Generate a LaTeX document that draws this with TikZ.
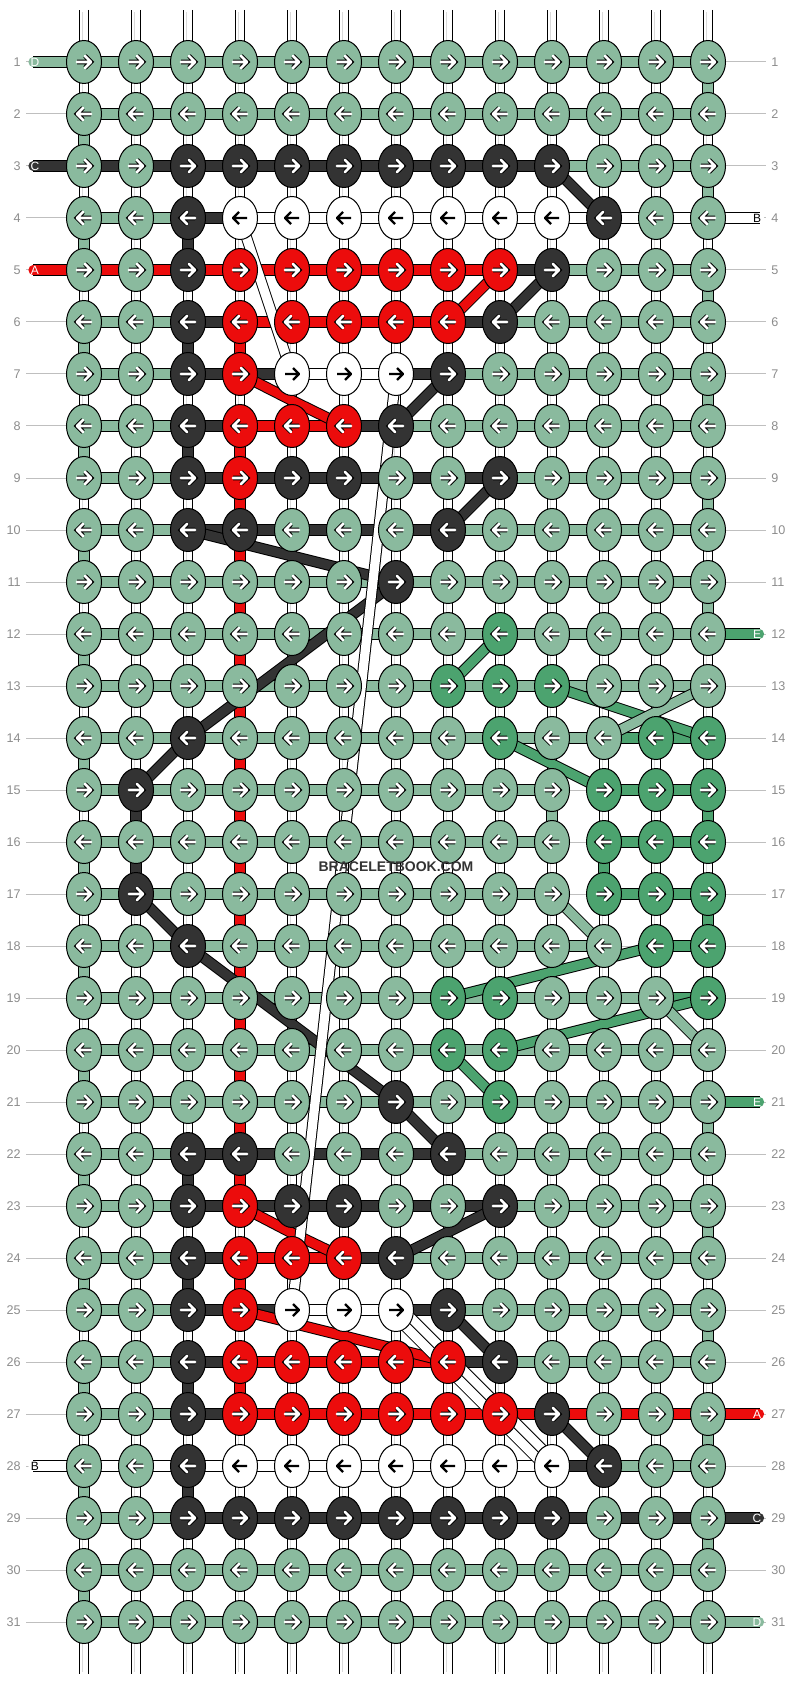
\documentclass[tikz,border=0pt]{standalone}
\usepackage{fontspec}
\setmainfont{Liberation Sans}
\usetikzlibrary{shapes.geometric}
\definecolor{G}{HTML}{8ABA9E}
\definecolor{M}{HTML}{4CA36F}
\definecolor{K}{HTML}{333333}
\definecolor{R}{HTML}{EC0C0C}
\definecolor{W}{HTML}{FFFFFF}
\pgfdeclarelayer{warp}
\pgfdeclarelayer{bars}
\pgfdeclarelayer{diag}
\pgfsetlayers{warp,bars,diag,main}
\tikzset{
  strand/.style={draw=#1, line width=4.6pt, line join=round, preaction={draw=black, line width=5.6pt}},
  seg G/.style={strand=G}, seg K/.style={strand=K}, seg R/.style={strand=R},
  seg W/.style={strand=W}, seg M/.style={strand=M},
  seg X/.style={draw=black!25, line width=0.5pt},
  knot/.style={ellipse, draw, line width=0.5pt, minimum width=17.5pt, minimum height=21.5pt, inner sep=0pt},
  arrow in/.style={draw=white, line width=1.3pt, line cap=round, line join=round,
    preaction={draw=black, line width=2.3pt}},
  arr G/.style={arrow in}, arr K/.style={arrow in}, arr R/.style={arrow in}, arr M/.style={arrow in},
  arr W/.style={draw=black, line width=1.1pt, line join=round},
  warp/.style={draw=white, line width=4.4pt, line cap=round, preaction={draw=black, line width=5pt}},
  warp core/.style={draw=black!15, line width=2pt, postaction={draw=white, line width=1.5pt}},
  guide/.style={draw=black!25, line width=0.5pt},
  rowno/.style={text=black!45, inner sep=0pt, font=\fontsize{6.3}{7}\selectfont},
  tag/.style={inner sep=0pt, font=\fontsize{6}{7}\selectfont}
}
\begin{document}
\begin{tikzpicture}[x=0.5pt, y=-0.5pt]
\useasboundingbox (0,0) rectangle (792,1684);

\foreach \kr [count=\ri] in {
  {G,G,G,G,G,G,G,G,G,G,G,G,G},
  {G,G,G,G,G,G,G,G,G,G,G,G,G},
  {G,G,K,K,K,K,K,K,K,K,G,G,G},
  {G,G,K,W,W,W,W,W,W,W,K,G,G},
  {G,G,K,R,R,R,R,R,R,K,G,G,G},
  {G,G,K,R,R,R,R,R,K,G,G,G,G},
  {G,G,K,R,W,W,W,K,G,G,G,G,G},
  {G,G,K,R,R,R,K,G,G,G,G,G,G},
  {G,G,K,R,K,K,G,G,K,G,G,G,G},
  {G,G,K,K,G,G,G,K,G,G,G,G,G},
  {G,G,G,G,G,G,K,G,G,G,G,G,G},
  {G,G,G,G,G,G,G,G,M,G,G,G,G},
  {G,G,G,G,G,G,G,M,M,M,G,G,G},
  {G,G,K,G,G,G,G,G,M,G,G,M,M},
  {G,K,G,G,G,G,G,G,G,G,M,M,M},
  {G,G,G,G,G,G,G,G,G,G,M,M,M},
  {G,K,G,G,G,G,G,G,G,G,M,M,M},
  {G,G,K,G,G,G,G,G,G,G,G,M,M},
  {G,G,G,G,G,G,G,M,M,G,G,G,M},
  {G,G,G,G,G,G,G,M,M,G,G,G,G},
  {G,G,G,G,G,G,K,G,M,G,G,G,G},
  {G,G,K,K,G,G,G,K,G,G,G,G,G},
  {G,G,K,R,K,K,G,G,K,G,G,G,G},
  {G,G,K,R,R,R,K,G,G,G,G,G,G},
  {G,G,K,R,W,W,W,K,G,G,G,G,G},
  {G,G,K,R,R,R,R,R,K,G,G,G,G},
  {G,G,K,R,R,R,R,R,R,K,G,G,G},
  {G,G,K,W,W,W,W,W,W,W,K,G,G},
  {G,G,K,K,K,K,K,K,K,K,G,G,G},
  {G,G,G,G,G,G,G,G,G,G,G,G,G},
  {G,G,G,G,G,G,G,G,G,G,G,G,G}}{
  \pgfmathsetmacro\dir{1-2*mod(\ri+1,2)}
  \foreach \kc [count=\ci] in \kr {
    \node[knot, fill=\kc] (\ri-\ci) at ({32+52*\ci},{10+52*\ri}) {};
    \begin{scope}[shift={({32+52*\ci},{10+52*\ri})}, xscale=\dir]
      \draw[arr \kc] (-7,0) -- (7,0) (1,-6) -- (7,0) -- (1,6);
    \end{scope}
  }
  \node[rowno, anchor=east] (ln\ri) at (21,{10+52*\ri}) {\ri};
  \node[rowno, anchor=west] (rn\ri) at (771,{10+52*\ri}) {\ri};
  \coordinate (gl\ri) at (26,{10+52*\ri});
  \coordinate (gr\ri) at (766,{10+52*\ri});
}

\begin{pgfonlayer}{warp}
  \foreach \ci in {1,...,13} {
    \coordinate (wt\ci) at ({32+52*\ci},10);
    \coordinate (wb\ci) at ({32+52*\ci},1674);
    \draw[warp] (wt\ci) -- (wb\ci);
    \draw[warp core] ([yshift=-1pt]wt\ci) -- ([yshift=1pt]wb\ci);
  }
  \foreach \ri in {1,...,31} {
    \draw[guide] (gl\ri) -- (\ri-1.center);
    \draw[guide] (\ri-13.center) -- (gr\ri);
  }
\end{pgfonlayer}

\begin{pgfonlayer}{bars}
  \foreach \br [count=\ri] in {
    {G,G,G,G,G,G,G,G,G,G,G,G},
    {G,G,G,G,G,G,G,G,G,G,G,G},
    {K,K,K,K,K,K,K,K,K,G,G,G},
    {G,G,K,W,W,W,W,W,W,W,W,W},
    {R,R,R,R,R,R,R,R,K,G,G,G},
    {G,G,K,R,R,R,R,K,G,G,G,G},
    {G,G,K,K,W,W,K,G,G,G,G,G},
    {G,G,K,R,R,K,G,G,G,G,G,G},
    {G,G,K,K,K,K,K,K,G,G,G,G},
    {G,G,K,K,K,K,K,G,G,G,G,G},
    {G,G,G,G,G,G,G,G,G,G,G,G},
    {G,G,G,G,G,G,G,G,G,G,G,G},
    {G,G,G,G,G,G,G,G,G,G,G,G},
    {G,G,G,G,G,G,G,G,G,G,M,M},
    {G,G,G,G,G,G,G,G,G,X,M,M},
    {G,G,G,G,G,G,G,G,G,X,M,M},
    {G,G,G,G,G,G,G,G,G,X,M,M},
    {G,G,G,G,G,G,G,G,G,G,X,M},
    {G,G,G,G,G,G,G,G,G,G,G,M},
    {G,G,G,G,G,G,G,G,G,G,G,G},
    {G,G,G,G,G,G,G,G,G,G,G,G},
    {G,G,K,K,K,K,K,G,G,G,G,G},
    {G,G,K,K,K,K,K,K,G,G,G,G},
    {G,G,K,R,R,K,G,G,G,G,G,G},
    {G,G,K,K,W,W,K,G,G,G,G,G},
    {G,G,K,R,R,R,R,K,G,G,G,G},
    {G,G,K,R,R,R,R,R,R,R,R,R},
    {W,W,W,W,W,W,W,W,W,K,G,G},
    {G,G,K,K,K,K,K,K,K,K,K,K},
    {G,G,G,G,G,G,G,G,G,G,G,G},
    {G,G,G,G,G,G,G,G,G,G,G,G}}{
    \foreach \bc [count=\ci] in \br {
      \pgfmathtruncatemacro\cn{\ci+1}
      \draw[seg \bc] (\ri-\ci.center) -- (\ri-\cn.center);
    }
  }
  \foreach \ci/\ri/\bc in {13/1/G, 13/3/G, 13/5/G, 13/7/G, 13/9/G, 13/11/G, 13/15/M, 13/17/M,
      13/21/G, 13/23/G, 13/25/G, 13/27/G, 13/29/G, 3/4/K, 3/6/K, 3/8/K, 3/22/K, 3/24/K,
      3/26/K, 3/28/K, 4/6/R, 4/24/R, 4/26/R, 2/15/K, 2/16/K, 11/16/M, 10/15/G} {
    \pgfmathtruncatemacro\rn{\ri+1}
    \draw[seg \bc] (\ri-\ci.center) -- (\rn-\ci.center);
  }
  \foreach \ri in {2,4,...,30} {
    \pgfmathtruncatemacro\rn{\ri+1}
    \draw[seg G] (\ri-1.center) -- (\rn-1.center);
  }
  \foreach \ri in {8,...,22} {
    \pgfmathtruncatemacro\rn{\ri+1}
    \draw[seg R] (\ri-4.center) -- (\rn-4.center);
  }
  \foreach \ri/\kc/\tx/\tc in {1/G/D/white, 3/K/C/white, 5/R/A/white, 28/W/B/black} {
    \coordinate (sl\ri) at (33,{10+52*\ri});
    \draw[strand=\kc, line cap=round] (sl\ri) -- (\ri-1.center);
    \node[tag, text=\tc] (tl\ri) at (35,{10+52*\ri}) {\tx};
  }
  \foreach \ri/\kc/\tx/\tc in {4/W/B/black, 12/M/E/white, 21/M/E/white, 27/R/A/white, 29/K/C/white, 31/G/D/white} {
    \coordinate (sr\ri) at (759.5,{10+52*\ri});
    \draw[strand=\kc, line cap=round] (\ri-13.center) -- (sr\ri);
    \node[tag, text=\tc] (tr\ri) at (757,{10+52*\ri}) {\tx};
  }
\end{pgfonlayer}

\begin{pgfonlayer}{diag}
  \foreach \a/\b in {3-10/4-11, 5-10/6-9, 7-8/8-7, 9-9/10-8, 10-3/11-7, 11-7/14-3, 14-3/15-2,
      17-2/18-3, 18-3/21-7, 21-7/22-8, 23-9/24-7, 25-8/26-9, 27-10/28-11}
    \draw[strand=K] (\a.center) -- (\b.center);
  \coordinate (rb1) at (293,401);
  \coordinate (rb2) at (290,1232);
  \draw[strand=R] (5-9.center) -- (6-8.center);
  \draw[strand=R] (7-4.center) -- (rb1) -- (8-6.center);
  \draw[strand=R] (23-4.center) -- (rb2) -- (24-6.center);
  \draw[strand=R] (25-4.center) -- (26-8.center);
  \foreach \a/\b in {12-9/13-8, 13-10/14-13, 14-9/15-11, 18-12/19-8, 19-13/20-9, 20-8/21-9}
    \draw[strand=M] (\a.center) -- (\b.center);
  \foreach \a/\b in {13-13/14-11, 17-10/18-11, 19-12/20-13}
    \draw[strand=G] (\a.center) -- (\b.center);
  \draw[strand=W] (4-4.center) -- (7-5.center);
  \draw[strand=W] (7-7.center) -- (25-5.center);
  \draw[strand=W] ([shift={(1.75pt,1.75pt)}]25-7.center) -- ([shift={(1.75pt,1.75pt)}]28-10.center);
  \draw[strand=W] ([shift={(-1.75pt,-1.75pt)}]25-7.center) -- ([shift={(-1.75pt,-1.75pt)}]28-10.center);
\end{pgfonlayer}

\node[text=K, font=\bfseries\fontsize{7}{8}\selectfont] (mark) at (396,867) {BRACELETBOOK.COM};
\end{tikzpicture}
\end{document}
